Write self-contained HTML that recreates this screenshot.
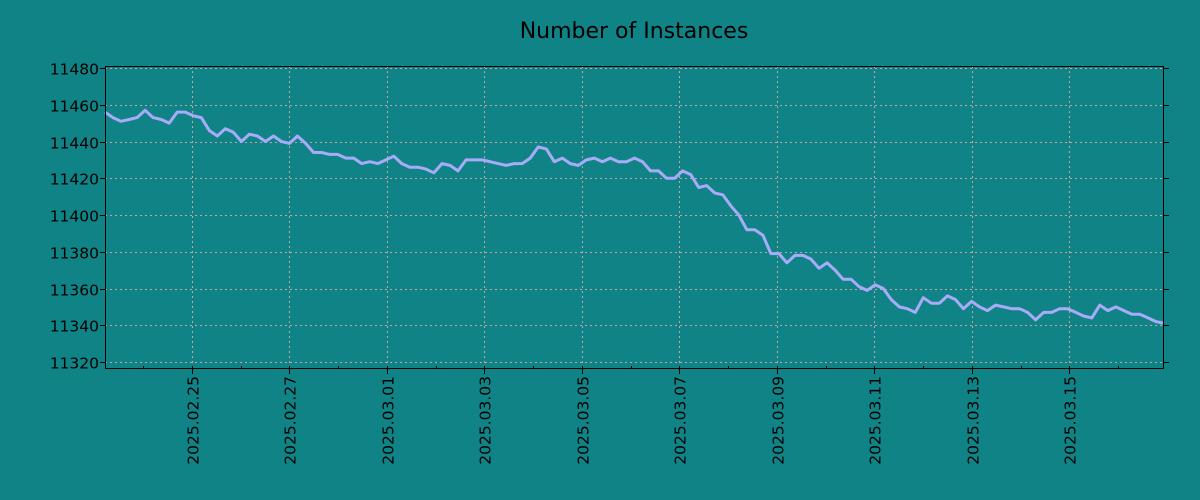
<!DOCTYPE html>
<html><head><meta charset="utf-8"><style>
html,body{margin:0;padding:0;background:#108386;}
svg{display:block;font-family:"DejaVu Sans","Liberation Sans",sans-serif;}
</style></head><body>
<svg id="chart" width="1200" height="500" xmlns="http://www.w3.org/2000/svg">
<rect x="0" y="0" width="1200" height="500" fill="#108386"/>
<text x="634" y="38" font-size="22" text-anchor="middle" fill="#000">Number of Instances</text>
<g id="grid"></g>
<g id="series"></g>
<g id="axes"></g>
</svg>
<script>
const startTime = "2025-02-23T05:10:00Z";
const stepHours = 3.95;
const values = [11456,11453,11451,11452,11453,11457,11453,11452,11450,11456,11456,11454,11453,11446,11443,11447,11445,11440,11444,11443,11440,11443,11440,11439,11443,11439,11434,11434,11433,11433,11431,11431,11428,11429,11428,11430,11432,11428,11426,11426,11425,11423,11428,11427,11424,11430,11430,11430,11429,11428,11427,11428,11428,11431,11437,11436,11429,11431,11428,11427,11430,11431,11429,11431,11429,11429,11431,11429,11424,11424,11420,11420,11424,11422,11415,11416,11412,11411,11405,11400,11392,11392,11389,11379,11379,11374,11378,11378,11376,11371,11374,11370,11365,11365,11361,11359,11362,11360,11354,11350,11349,11347,11355,11352,11352,11356,11354,11349,11353,11350,11348,11351,11350,11349,11349,11347,11343,11347,11347,11349,11349,11347,11345,11344,11351,11348,11350,11348,11346,11346,11344,11342,11341];
const yTicks = [11320,11340,11360,11380,11400,11420,11440,11460,11480];
const xTickLabels = ["2025.02.25","2025.02.27","2025.03.01","2025.03.03","2025.03.05","2025.03.07","2025.03.09","2025.03.11","2025.03.13","2025.03.15"];

const NS="http://www.w3.org/2000/svg";
const L=105,R=1164,T=66,B=369;
const yMin=11316.2,yMax=11481.1;
const t0=Date.parse(startTime), H=3600000;
const times=values.map((v,i)=>t0+i*stepHours*H);
const tMin=times[0], tMax=times[times.length-1];
const xs=t=>L+(t-tMin)/(tMax-tMin)*(R-L);
const ys=v=>B-(v-yMin)/(yMax-yMin)*(B-T);
function mk(tag,attrs,parent){const e=document.createElementNS(NS,tag);for(const k in attrs)e.setAttribute(k,attrs[k]);parent.appendChild(e);return e;}
const grid=document.getElementById('grid'),axes=document.getElementById('axes'),series=document.getElementById('series');
const gridStyle={stroke:"#c4a4a4","stroke-width":1,"stroke-dasharray":"2,3"};
yTicks.forEach(v=>{const y=Math.round(ys(v))+0.5;
 const g=mk('line',Object.assign({x1:L,x2:R,y1:y,y2:y},gridStyle),grid);
 
 
 const t1=mk('line',{x1:L-5,x2:L,y1:y,y2:y,stroke:"#000"},axes);
 
 
 const t2=mk('line',{x1:R,x2:R+5,y1:y,y2:y,stroke:"#000"},axes);
 
 
 const tx=mk('text',{x:L-6,y:y+6,"font-size":15.5,"text-anchor":"end",fill:"#000"},axes);
 tx.textContent=v;
 
 
});
const day0=Date.parse("2025-02-23T00:00:00Z");
for(let d=1;;d++){
 const t=day0+d*24*H; if(t>tMax)break; if(t<tMin)continue;
 const x=Math.round(xs(t))+0.5;
 const m=mk('line',{x1:x,x2:x,y1:B,y2:B-3,stroke:"#000"},axes);
 
 
}
xTickLabels.forEach(lab=>{const t=Date.parse(lab.replace(/\./g,'-')+"T00:00:00Z");const x=Math.round(xs(t))+0.5;
 const g=mk('line',Object.assign({x1:x,x2:x,y1:T,y2:B},gridStyle),grid);
 
 
 const tk=mk('line',{x1:x,x2:x,y1:B,y2:B+5,stroke:"#000"},axes);
 
 
 const tx=mk('text',{x:0,y:0,"font-size":15.5,"text-anchor":"end",fill:"#000",transform:`translate(${x+6},${B+7}) rotate(-90)`},axes);
 tx.textContent=lab;
 
 
});
const pts=values.map((v,i)=>xs(times[i]).toFixed(1)+","+ys(v).toFixed(1)).join(" ");
const line=mk('polyline',{points:pts,fill:"none",stroke:"#a8acf8","stroke-width":3,"stroke-linejoin":"round"},series);


const frame=mk('rect',{x:L+0.5,y:T+0.5,width:R-L-1,height:B-T-1,fill:"none",stroke:"#000","stroke-width":1},axes);


</script>
</body></html>
